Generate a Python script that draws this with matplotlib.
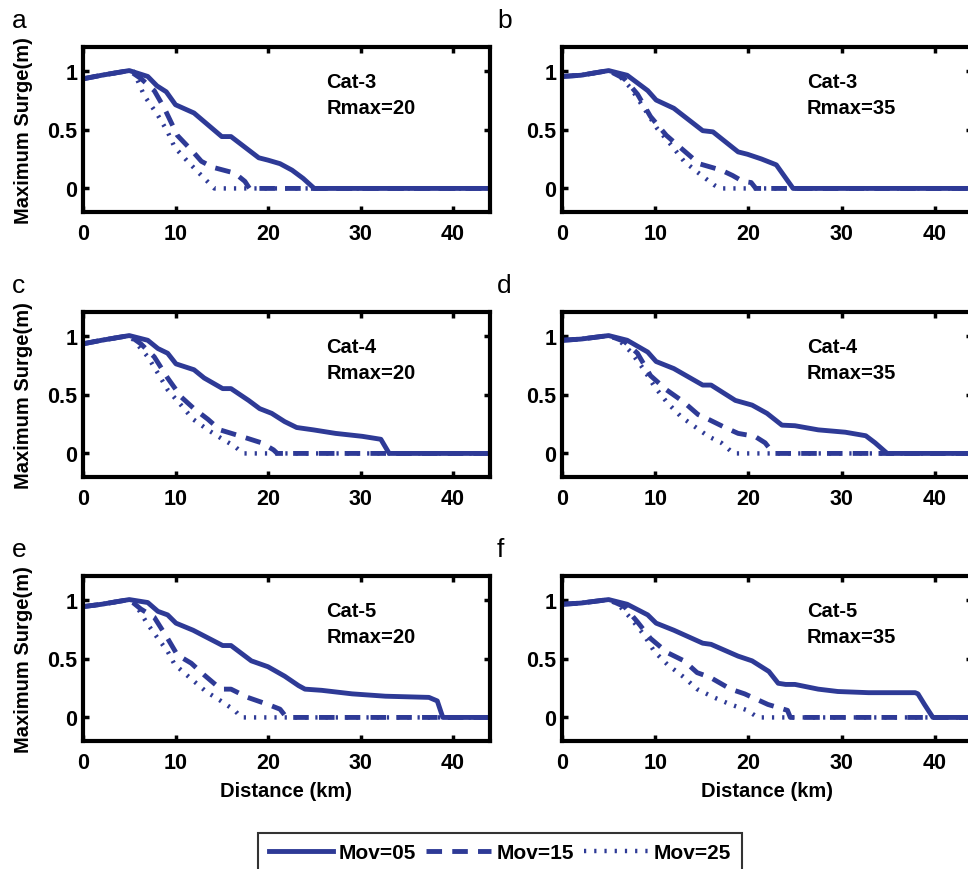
import matplotlib
matplotlib.use("Agg")
import matplotlib.pyplot as plt
from matplotlib.lines import Line2D

plt.rcParams['font.family'] = ['Liberation Sans', 'DejaVu Sans']

# ---- surge profiles: distance (km) and maximum surge (m) per forward speed ----
# panel a: Cat-3, Rmax=20
a_dist_05 = [0, 2, 5, 7, 8, 9, 10, 12, 15, 16, 19, 20, 21.3, 22.6, 23.8, 25, 44]
a_surge_05 = [0.93, 0.96, 1.0, 0.95, 0.87, 0.82, 0.71, 0.64, 0.44, 0.44, 0.26, 0.24, 0.21, 0.155, 0.085, 0, 0]
a_dist_15 = [0, 2, 5, 6.3, 7.7, 8.8, 10.2, 11.9, 12.8, 14, 16.4, 17.5, 18, 44]
a_surge_15 = [0.93, 0.96, 1.0, 0.93, 0.83, 0.68, 0.45, 0.31, 0.23, 0.18, 0.13, 0.06, 0, 0]
a_dist_25 = [0, 2, 5, 5.5, 6.6, 8.1, 9.15, 9.9, 11.3, 12.8, 14.2, 44]
a_surge_25 = [0.93, 0.96, 1.0, 0.99, 0.79, 0.62, 0.48, 0.35, 0.23, 0.11, 0, 0]

# panel b: Cat-3, Rmax=35
b_dist_05 = [0, 2, 5, 7, 9.2, 10.1, 12, 15.1, 16.2, 18.9, 19.9, 21.4, 23, 24.8, 44]
b_surge_05 = [0.95, 0.96, 1.0, 0.96, 0.83, 0.75, 0.68, 0.49, 0.48, 0.31, 0.29, 0.25, 0.20, 0, 0]
b_dist_15 = [0, 2, 5, 6.7, 8.1, 9.5, 11.2, 12.8, 14.7, 17.1, 18.3, 19.4, 20.3, 20.8, 44]
b_surge_15 = [0.95, 0.96, 1.0, 0.93, 0.80, 0.61, 0.45, 0.34, 0.21, 0.155, 0.11, 0.06, 0.05, 0, 0]
b_dist_25 = [0, 2, 5, 6.1, 7.4, 8.8, 10.2, 11.7, 13.1, 14.5, 16.3, 17, 44]
b_surge_25 = [0.95, 0.96, 1.0, 0.96, 0.85, 0.68, 0.51, 0.37, 0.23, 0.14, 0.03, 0, 0]

# panel c: Cat-4, Rmax=20
c_dist_05 = [0, 2, 5, 7, 8.1, 9.15, 10.05, 12, 13.1, 15.1, 16, 17.9, 19.1, 20.4, 21.8, 23.1, 24.9, 27.3, 30.2, 32.2, 33.1, 44]
c_surge_05 = [0.93, 0.96, 1.0, 0.96, 0.89, 0.85, 0.76, 0.71, 0.64, 0.55, 0.55, 0.45, 0.38, 0.34, 0.27, 0.22, 0.20, 0.17, 0.145, 0.12, 0, 0]
c_dist_15 = [0, 2, 5, 6.25, 7.7, 9.15, 10.6, 12, 13.5, 14.8, 17.1, 19.3, 20.6, 21, 44]
c_surge_15 = [0.93, 0.96, 1.0, 0.93, 0.82, 0.64, 0.48, 0.38, 0.29, 0.20, 0.145, 0.09, 0.03, 0, 0]
c_dist_25 = [0, 2, 5, 5.5, 7, 8.1, 9.15, 10.6, 11.9, 13.5, 14.9, 16.4, 17.3, 44]
c_surge_25 = [0.93, 0.96, 1.0, 0.96, 0.82, 0.68, 0.54, 0.41, 0.29, 0.20, 0.13, 0.06, 0, 0]

# panel d: Cat-4, Rmax=35
d_dist_05 = [0, 2, 5, 7, 9.2, 10.1, 12, 15.1, 16, 18.6, 20.4, 22, 23.6, 25, 27.5, 30.4, 32.6, 33.6, 34.9, 44]
d_surge_05 = [0.96, 0.97, 1.0, 0.96, 0.86, 0.78, 0.72, 0.58, 0.58, 0.45, 0.41, 0.34, 0.24, 0.235, 0.20, 0.18, 0.15, 0.09, 0, 0]
d_dist_15 = [0, 2, 5, 6.7, 8.1, 9.5, 11.2, 13, 14.6, 15.7, 17.5, 18.9, 20.7, 21.8, 22.7, 44]
d_surge_15 = [0.96, 0.97, 1.0, 0.95, 0.85, 0.66, 0.54, 0.44, 0.33, 0.29, 0.22, 0.17, 0.145, 0.09, 0, 0]
d_dist_25 = [0, 2, 5, 6, 7.4, 8.8, 9.9, 11.3, 12.8, 14.2, 15.7, 17.1, 18.4, 44]
d_surge_25 = [0.96, 0.97, 1.0, 0.97, 0.86, 0.71, 0.57, 0.43, 0.31, 0.23, 0.145, 0.09, 0, 0]

# panel e: Cat-5, Rmax=20
e_dist_05 = [0, 2, 5, 7, 8.1, 9.15, 10.05, 11.9, 15.1, 16, 18.2, 20, 21.8, 23.3, 24, 25.8, 29.1, 32.7, 37.4, 38.3, 38.9, 44]
e_surge_05 = [0.94, 0.96, 1.0, 0.975, 0.90, 0.87, 0.80, 0.74, 0.61, 0.61, 0.48, 0.43, 0.35, 0.27, 0.24, 0.23, 0.20, 0.18, 0.17, 0.14, 0, 0]
e_dist_15 = [0, 2, 5, 6.25, 7.7, 9.15, 10.2, 11.7, 13.1, 14.9, 16, 17.8, 20, 21.3, 22, 44]
e_surge_15 = [0.94, 0.96, 1.0, 0.92, 0.85, 0.67, 0.53, 0.46, 0.36, 0.24, 0.24, 0.17, 0.11, 0.07, 0, 0]
e_dist_25 = [0, 2, 5, 5.5, 7, 8.1, 9.15, 9.9, 11.5, 13.3, 14.9, 16.4, 17.1, 44]
e_surge_25 = [0.94, 0.96, 1.0, 0.98, 0.79, 0.67, 0.56, 0.45, 0.34, 0.22, 0.14, 0.06, 0, 0]

# panel f: Cat-5, Rmax=35
f_dist_05 = [0, 2, 5, 7, 9.2, 10.1, 12, 15.1, 16, 18.9, 20.4, 22.2, 23.2, 24, 25, 27.5, 29.6, 32.9, 37.9, 38.2, 38.9, 39.8, 44]
f_surge_05 = [0.96, 0.97, 1.0, 0.96, 0.87, 0.80, 0.74, 0.63, 0.62, 0.52, 0.48, 0.39, 0.29, 0.28, 0.28, 0.24, 0.22, 0.21, 0.21, 0.20, 0.11, 0, 0]
f_dist_15 = [0, 2, 5, 6.7, 8.1, 9.5, 11.3, 13.1, 14.5, 15.9, 18.1, 19.6, 22.1, 24.2, 24.5, 44]
f_surge_15 = [0.96, 0.97, 1.0, 0.94, 0.81, 0.67, 0.55, 0.48, 0.38, 0.34, 0.24, 0.20, 0.11, 0.06, 0, 0]
f_dist_25 = [0, 2, 5, 6, 7.4, 8.8, 9.9, 11.3, 13.1, 14.5, 16.3, 18.1, 19.9, 21, 44]
f_surge_25 = [0.96, 0.97, 1.0, 0.96, 0.84, 0.70, 0.56, 0.45, 0.34, 0.24, 0.17, 0.11, 0.06, 0, 0]

panel_letters = ["a", "b", "c", "d", "e", "f"]
categories = ["Cat-3", "Cat-3", "Cat-4", "Cat-4", "Cat-5", "Cat-5"]
rmax_values = [20, 35, 20, 35, 20, 35]
series_labels = ["Mov=05", "Mov=15", "Mov=25"]
x_ticks = [0, 10, 20, 30, 40]
y_ticks = [0, 0.5, 1]
y_tick_labels = ["0", "0.5", "1"]

panels = [
    [(a_dist_05, a_surge_05), (a_dist_15, a_surge_15), (a_dist_25, a_surge_25)],
    [(b_dist_05, b_surge_05), (b_dist_15, b_surge_15), (b_dist_25, b_surge_25)],
    [(c_dist_05, c_surge_05), (c_dist_15, c_surge_15), (c_dist_25, c_surge_25)],
    [(d_dist_05, d_surge_05), (d_dist_15, d_surge_15), (d_dist_25, d_surge_25)],
    [(e_dist_05, e_surge_05), (e_dist_15, e_surge_15), (e_dist_25, e_surge_25)],
    [(f_dist_05, f_surge_05), (f_dist_15, f_surge_15), (f_dist_25, f_surge_25)],
]

LINE_COLOR = "#2e3a96"
styles = [dict(linestyle="-", linewidth=3.5),
          dict(linestyle=(0, (3.2, 2.1)), linewidth=3.5),
          dict(linestyle=(0, (0.5, 1.8)), linewidth=3.2)]

W, H = 968, 870
fig = plt.figure(figsize=(W / 100, H / 100), dpi=100)

col_left = [83, 562]
col_width = [407, 410]
row_top = [48, 313, 577]
row_height = 165

for i in range(6):
    r, c = divmod(i, 2)
    x0 = col_left[c] / W
    y0 = 1 - (row_top[r] + row_height) / H
    ax = fig.add_axes([x0, y0, col_width[c] / W, row_height / H])
    for (xs, ys), st in zip(panels[i], styles):
        ax.plot(xs, ys, color=LINE_COLOR, **st)
    ax.set_xlim(0, 44)
    ax.set_ylim(-0.2, 1.2)
    ax.set_xticks(x_ticks)
    ax.set_yticks(y_ticks)
    ax.set_yticklabels(y_tick_labels)
    for s in ax.spines.values():
        s.set_linewidth(3.0)
    ax.tick_params(direction="in", length=4, width=2.5, top=True, right=True,
                   labelsize=15.5)
    ax.tick_params(axis="x", pad=8)
    ax.tick_params(axis="y", pad=4)
    for lab in ax.get_xticklabels() + ax.get_yticklabels():
        lab.set_fontweight("bold")
    ax.text(26.3, 0.91, categories[i], fontsize=14.5, fontweight="bold",
            ha="left", va="center")
    ax.text(26.3, 0.69, f"Rmax={rmax_values[i]}", fontsize=14.5,
            fontweight="bold", ha="left", va="center")
    if c == 0:
        ax.set_ylabel("Maximum Surge(m)", fontsize=14.5, fontweight="bold")
        ax.yaxis.set_label_coords(-0.122, 0.5)
    if r == 2:
        ax.set_xlabel("Distance (km)", fontsize=14.5, fontweight="bold")
        ax.xaxis.set_label_coords(0.5, -0.245)
    lx = 12 if c == 0 else 497
    fig.text(lx / W, 1 - (row_top[r] - 20) / H, panel_letters[i],
             fontsize=19, ha="left", va="baseline")

handles = [Line2D([], [], color=LINE_COLOR, **st) for st in styles]
leg = fig.legend(handles, series_labels, loc="upper center",
                 bbox_to_anchor=(500 / W, 1 - 834 / H), ncol=3,
                 prop={"weight": "bold", "size": 15}, frameon=True,
                 fancybox=False, edgecolor="black", handlelength=3.1,
                 handletextpad=0.25, columnspacing=0.5, borderpad=0.5,
                 borderaxespad=0)
leg.get_frame().set_linewidth(1.5)

fig.savefig("out.png", dpi=100)
